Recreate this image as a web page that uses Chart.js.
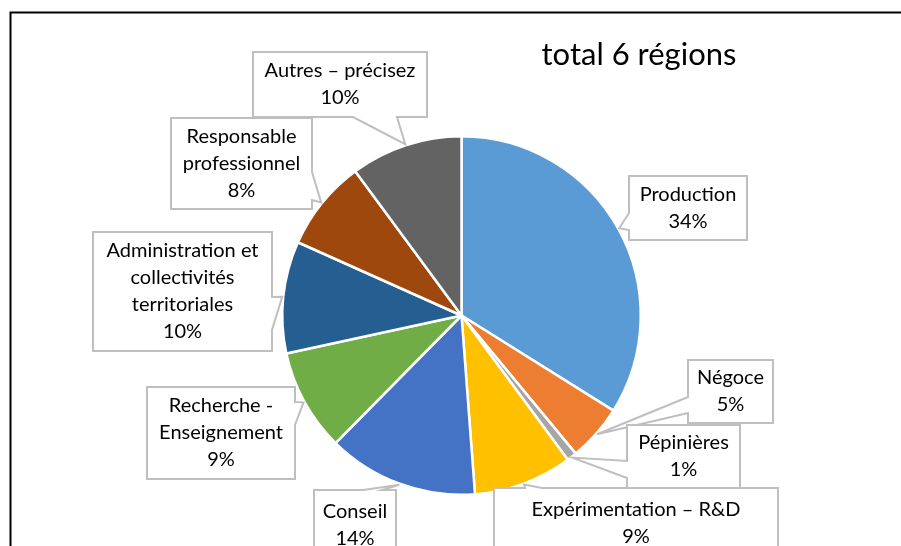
<!DOCTYPE html>
<html>
<head>
<meta charset="utf-8">
<script src="https://cdn.jsdelivr.net/npm/chart.js@4.4.0/dist/chart.umd.min.js"></script>
<style>
body { margin: 0; background: #fff; }
</style>
</head>
<body>
<canvas id="chart" width="901" height="546"></canvas>
<script>
var categories = ["Production", "Négoce", "Pépinières", "Expérimentation – R&D", "Conseil",
    "Recherche - Enseignement", "Administration et collectivités territoriales",
    "Responsable professionnel", "Autres – précisez"];
var values = [33.9, 5.1, 0.9, 8.9, 13.6, 9.2, 10.1, 8.2, 10.1];
var colors = ["#5B9BD5", "#ED7D31", "#A5A5A5", "#FFC000", "#4472C4", "#70AD47", "#255E91", "#9E480E", "#636363"];
var title = "total 6 régions";

// label callouts: box rect + which side the pointer leaves from, pointer base offsets on that side
var boxes = [
    { x: 629, y: 176, w: 118, h: 64, side: "left", b: [37, 54] },
    { x: 688, y: 360, w: 85, h: 63, side: "left", b: [37, 53] },
    { x: 627, y: 425, w: 113, h: 63, side: "left", b: [36, 53] },
    { x: 494, y: 488, w: 284, h: 70, side: "top", b: [31, 48] },
    { x: 314, y: 490, w: 82, h: 70, side: "top", b: [49, 68] },
    { x: 147, y: 387, w: 148, h: 92, side: "right", b: [15, 38] },
    { x: 93, y: 232, w: 179, h: 119, side: "right", b: [65, 98] },
    { x: 171, y: 118, w: 141, h: 91, side: "right", b: [54, 82] },
    { x: 253, y: 52, w: 174, h: 65, side: "bottom", b: [100, 144] }
];

function wrap(ctx, text, maxw) {
    var words = text.split(" ");
    var lines = [];
    var cur = "";
    for (var i = 0; i < words.length; i++) {
        var t = cur ? cur + " " + words[i] : words[i];
        if (cur && ctx.measureText(t).width > maxw) {
            lines.push(cur);
            cur = words[i];
        } else {
            cur = t;
        }
    }
    if (cur) lines.push(cur);
    return lines;
}

function calloutPath(ctx, bx, tx, ty) {
    var x = bx.x, y = bx.y, r = bx.x + bx.w, btm = bx.y + bx.h;
    ctx.beginPath();
    ctx.moveTo(x, y);
    if (bx.side == "top") {
        ctx.lineTo(x + bx.b[0], y);
        ctx.lineTo(tx, ty);
        ctx.lineTo(x + bx.b[1], y);
    }
    ctx.lineTo(r, y);
    if (bx.side == "right") {
        ctx.lineTo(r, y + bx.b[0]);
        ctx.lineTo(tx, ty);
        ctx.lineTo(r, y + bx.b[1]);
    }
    ctx.lineTo(r, btm);
    if (bx.side == "bottom") {
        ctx.lineTo(x + bx.b[1], btm);
        ctx.lineTo(tx, ty);
        ctx.lineTo(x + bx.b[0], btm);
    }
    ctx.lineTo(x, btm);
    if (bx.side == "left") {
        ctx.lineTo(x, y + bx.b[1]);
        ctx.lineTo(tx, ty);
        ctx.lineTo(x, y + bx.b[0]);
    }
    ctx.closePath();
}

var callouts = {
    id: "callouts",
    beforeDraw: function (chart) {
        var ctx = chart.ctx;
        ctx.save();
        ctx.fillStyle = "#fff";
        ctx.fillRect(0, 0, chart.width, chart.height);
        ctx.strokeStyle = "#000";
        ctx.lineWidth = 2;
        ctx.beginPath();
        ctx.moveTo(10.5, 546);
        ctx.lineTo(10.5, 12.5);
        ctx.lineTo(901, 12.5);
        ctx.stroke();
        ctx.fillStyle = "#000";
        ctx.font = "31px Lato";
        ctx.textAlign = "center";
        ctx.textBaseline = "middle";
        ctx.fillText(title, 639, 55);
        ctx.restore();
    },
    afterDatasetsDraw: function (chart) {
        var ctx = chart.ctx;
        var meta = chart.getDatasetMeta(0);
        var total = values.reduce(function (a, b) { return a + b; }, 0);
        ctx.save();
        ctx.font = "20px Lato";
        ctx.textAlign = "center";
        ctx.textBaseline = "middle";
        meta.data.forEach(function (arc, i) {
            var p = arc.getProps(["x", "y", "startAngle", "endAngle", "outerRadius"], true);
            var mid = (p.startAngle + p.endAngle) / 2;
            var tx = p.x + Math.cos(mid) * (p.outerRadius + 1);
            var ty = p.y + Math.sin(mid) * (p.outerRadius + 1);
            var bx = boxes[i];
            calloutPath(ctx, bx, tx, ty);
            ctx.fillStyle = "#fff";
            ctx.fill();
            ctx.strokeStyle = "#BFBFBF";
            ctx.lineWidth = 2;
            ctx.stroke();
            var lines = wrap(ctx, categories[i], bx.w - 6);
            lines.push(Math.round(values[i] / total * 100) + "%");
            var lh = 27;
            var cy = bx.y + bx.h / 2 - (lines.length - 1) * lh / 2;
            ctx.fillStyle = "#000";
            for (var j = 0; j < lines.length; j++) {
                ctx.fillText(lines[j], bx.x + bx.w / 2, cy + j * lh);
            }
        });
        ctx.restore();
    }
};

var ctx = document.getElementById("chart");
var myChart = new Chart(ctx, {
    type: "pie",
    data: {
        labels: categories,
        datasets: [{
            data: values,
            backgroundColor: colors,
            borderColor: "#fff",
            borderWidth: 2.5
        }]
    },
    options: {
        responsive: false,
        animation: false,
        layout: { padding: { top: 135, bottom: 50, left: 281, right: 259 } },
        plugins: {
            legend: { display: false },
            tooltip: { enabled: false },
            title: { display: false }
        }
    },
    plugins: [callouts]
});
</script>
</body>
</html>
